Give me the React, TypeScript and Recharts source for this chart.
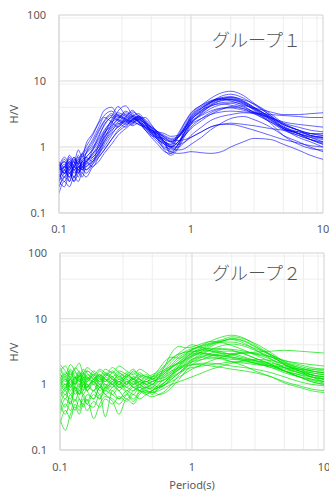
import React from 'react';
import { LineChart, Line, XAxis, YAxis, CartesianGrid } from 'recharts';

const PERIODS = [0.1, 0.11, 0.12, 0.13, 0.14, 0.15, 0.16, 0.18, 0.2, 0.22, 0.25, 0.28, 0.32, 0.36, 0.4, 0.45, 0.5, 0.56, 0.63, 0.7, 0.8, 0.9, 1.0, 1.2, 1.4, 1.7, 2.0, 2.5, 3.0, 4.0, 5.0, 6.5, 8.0, 10];

const X_MAJOR = [0.1, 1, 10];
const X_MINOR = [0.2, 0.3, 0.4, 0.5, 0.6, 0.7, 0.8, 0.9, 2, 3, 4, 5, 6, 7, 8, 9];
const Y_MAJOR = [0.1, 1, 10, 100];
const Y_MINOR = [0.2, 0.3, 0.4, 0.5, 0.6, 0.7, 0.8, 0.9, 2, 3, 4, 5, 6, 7, 8, 9, 20, 30, 40, 50, 60, 70, 80, 90];

const B01 = [0.45,0.6,0.4,0.55,0.7,0.5,0.8,1.2,1.8,2.5,3.2,2.8,3.5,2.9,2.5,1.9,1.6,1.4,1.2,1.1,1.6,2.4,3.3,4.3,5.0,5.6,5.8,5.0,4.0,2.8,2.0,1.6,1.4,1.3];
const B02 = [0.3,0.45,0.35,0.5,0.4,0.6,0.55,0.7,0.9,1.4,2.0,2.6,2.4,3.0,2.7,2.2,1.8,1.6,1.2,0.85,1.1,1.9,2.9,3.9,4.7,5.3,5.0,4.2,3.3,2.4,1.8,1.5,1.3,1.2];
const B03 = [0.55,0.4,0.7,0.5,0.65,0.45,0.7,0.6,1.1,1.6,2.3,3.0,2.6,2.3,2.8,2.4,1.7,1.3,1.1,0.9,1.1,1.7,2.5,3.5,4.5,5.3,5.7,5.2,4.5,3.2,2.3,1.8,1.5,1.4];
const B04 = [0.25,0.35,0.3,0.45,0.35,0.5,0.4,0.55,0.8,1.0,1.5,2.1,2.5,2.2,2.6,2.0,1.7,1.5,1.3,1.2,1.4,1.9,2.6,3.4,4.1,4.7,4.8,4.4,3.8,2.9,2.2,1.8,1.6,1.5];
const B05 = [0.6,0.5,0.75,0.6,0.9,0.7,1.1,1.6,2.4,3.6,4.0,3.0,2.7,3.2,2.5,1.8,1.5,1.4,1.35,1.2,1.4,1.9,2.4,3.1,3.8,4.4,4.6,4.0,3.4,2.5,1.9,1.6,1.3,1.1];
const B06 = [0.35,0.5,0.45,0.3,0.5,0.4,0.6,0.5,0.7,0.9,1.3,1.8,2.3,2.9,3.2,2.5,2.0,1.6,1.2,1.1,1.5,2.3,3.2,4.3,5.4,6.6,7.0,6.0,4.6,3.0,2.1,1.6,1.3,1.1];
const B07 = [0.5,0.35,0.6,0.45,0.55,0.8,0.6,0.9,1.4,2.2,2.9,4.1,3.0,2.6,2.2,2.0,1.8,1.7,1.6,1.45,1.5,1.8,2.2,2.7,3.1,3.4,3.5,3.4,3.3,3.1,3.0,2.9,2.8,2.8];
const B08 = [0.4,0.55,0.3,0.5,0.45,0.6,0.5,0.65,0.8,1.2,1.7,2.3,2.0,2.7,2.4,2.1,1.9,1.3,0.9,0.75,0.95,1.5,2.2,3.2,4.2,5.0,5.2,4.6,3.6,2.3,1.5,1.1,0.95,0.9];
const B09 = [0.3,0.25,0.4,0.35,0.5,0.45,0.55,0.8,1.0,1.5,2.6,3.3,2.9,2.5,3.0,2.3,1.6,1.3,1.1,0.8,1.0,1.7,2.3,3.0,3.5,3.9,4.0,3.8,3.4,2.8,2.3,2.0,1.8,1.7];
const B10 = [0.45,0.65,0.5,0.7,0.55,0.75,0.9,1.3,2.0,2.8,2.4,2.0,2.8,3.6,2.8,2.2,1.7,1.6,1.45,1.3,1.25,1.3,1.4,1.7,2.0,2.2,2.3,2.2,2.1,1.9,1.8,1.7,1.6,1.6];
const B11 = [0.2,0.3,0.25,0.35,0.3,0.4,0.35,0.5,0.6,0.8,1.1,1.5,1.9,2.3,2.6,2.8,2.2,1.6,1.2,1.0,1.0,1.2,1.5,2.0,2.5,2.9,3.1,3.3,3.2,2.7,2.2,1.8,1.5,1.4];
const B12 = [0.5,0.7,0.55,0.45,0.6,0.7,0.8,1.0,1.3,1.8,2.4,2.7,3.3,2.8,2.4,1.8,1.4,1.1,0.85,0.8,1.1,1.6,2.3,3.3,4.3,5.1,5.3,4.7,3.9,2.7,1.9,1.4,1.2,1.0];
const B13 = [0.35,0.45,0.6,0.4,0.5,0.55,0.45,0.6,0.75,1.1,1.6,2.0,2.5,2.9,2.6,2.3,2.0,1.7,1.3,1.0,0.9,0.95,1.1,1.4,1.8,2.3,2.7,2.9,2.6,2.0,1.5,1.2,1.0,0.85];
const B14 = [0.4,0.3,0.5,0.6,0.45,0.65,0.7,0.95,1.5,2.1,2.8,2.5,2.2,2.5,2.9,2.4,2.0,1.7,1.5,1.35,1.4,1.9,2.7,3.8,4.7,5.3,5.2,4.5,3.7,2.6,2.0,1.7,1.5,1.4];
const B15 = [0.55,0.45,0.35,0.5,0.6,0.5,0.65,0.7,0.9,1.2,1.9,2.4,2.9,3.4,3.0,2.4,1.9,1.5,1.15,1.0,1.2,1.7,2.5,3.6,4.7,5.9,6.3,5.5,4.4,3.0,2.2,1.8,1.6,1.5];
const B16 = [0.3,0.4,0.5,0.35,0.45,0.35,0.5,0.6,0.85,1.3,2.2,3.5,4.2,3.0,2.4,2.0,1.6,1.3,1.1,1.0,1.2,1.5,1.9,2.5,3.1,3.7,4.1,4.2,3.9,3.4,3.1,3.1,3.2,3.3];
const B17 = [0.5,0.6,0.45,0.65,0.55,0.45,0.6,0.75,1.0,1.4,1.8,2.2,2.6,2.4,2.2,1.9,1.5,1.2,0.95,0.85,0.8,0.82,0.85,0.82,0.8,0.85,1.0,1.2,1.35,1.3,1.1,0.9,0.75,0.65];
const B18 = [0.25,0.35,0.4,0.3,0.4,0.5,0.45,0.55,0.7,0.9,1.3,1.7,2.1,2.6,2.9,2.6,2.1,1.7,1.4,1.2,1.1,1.2,1.4,1.7,2.0,2.2,2.2,2.0,1.8,1.5,1.3,1.15,1.05,1.0];
const B19 = [0.6,0.4,0.55,0.7,0.5,0.6,0.8,1.1,1.7,2.4,3.0,2.6,2.3,2.6,2.8,2.2,1.8,1.5,1.2,1.05,1.4,2.0,2.8,3.9,4.8,5.5,5.6,4.9,4.0,2.8,2.0,1.6,1.4,1.2];
const B20 = [0.45,0.5,0.65,0.5,0.75,0.6,0.7,0.9,1.2,1.7,2.5,3.1,2.7,2.4,2.7,2.3,1.9,1.4,1.0,0.95,1.2,1.5,2.0,2.7,3.3,3.8,3.9,3.6,3.3,2.8,2.4,2.2,2.1,2.0];
const B21 = [0.3,0.5,0.4,0.55,0.65,0.8,1.0,1.5,2.3,3.0,3.5,2.9,2.5,2.1,2.3,2.0,1.7,1.4,1.15,1.0,1.4,2.1,3.0,4.1,4.9,5.4,5.4,4.8,3.8,2.6,1.9,1.5,1.3,1.15];
const B22 = [0.55,0.4,0.45,0.6,0.4,0.55,0.6,0.8,1.1,1.6,2.1,2.6,3.1,2.7,2.5,2.1,1.8,1.6,1.4,1.25,1.5,2.0,2.7,3.6,4.2,4.5,4.3,3.8,3.2,2.4,1.9,1.6,1.45,1.35];

const G01 = [1.2,0.9,1.5,1.1,1.4,0.8,1.2,1.0,1.3,0.9,1.1,1.4,1.0,1.2,0.9,1.1,1.0,1.3,1.6,2.0,2.6,3.0,3.4,3.8,4.2,4.6,4.8,4.2,3.4,2.4,1.8,1.5,1.3,1.2];
const G02 = [0.6,0.8,0.5,0.9,0.7,1.0,0.8,1.1,0.9,1.2,1.0,0.8,1.1,0.9,1.0,0.85,0.9,1.1,1.4,1.8,2.2,2.6,2.9,3.0,2.9,2.7,2.5,2.3,2.1,1.8,1.6,1.4,1.3,1.2];
const G03 = [1.8,1.4,2.0,1.6,1.3,1.7,1.5,1.2,1.6,1.4,1.8,1.5,1.3,1.6,1.4,1.2,1.1,1.2,1.3,1.5,1.8,2.2,2.6,3.2,3.8,4.5,5.0,4.6,3.8,2.7,2.0,1.6,1.4,1.3];
const G04 = [0.35,0.5,0.4,0.6,0.45,0.7,0.55,0.8,0.6,0.9,0.7,0.6,0.8,0.7,0.9,0.8,0.75,0.85,1.0,1.3,1.7,2.1,2.4,2.7,2.8,2.7,2.6,2.4,2.2,1.9,1.6,1.3,1.1,1.0];
const G05 = [1.0,1.3,0.9,1.2,1.6,1.1,1.4,1.2,0.9,1.3,1.1,1.5,1.2,1.0,1.3,1.1,1.3,1.7,2.3,2.6,2.5,2.8,3.3,4.0,4.6,5.3,5.6,5.0,4.0,2.8,2.0,1.6,1.4,1.3];
const G06 = [0.8,0.6,1.0,0.7,0.9,1.2,0.8,1.0,0.7,0.9,1.2,0.9,1.0,1.3,1.0,0.9,1.0,0.9,1.0,1.2,1.5,1.9,2.3,2.6,2.6,2.4,2.2,2.1,2.0,1.9,1.8,1.7,1.7,1.7];
const G07 = [1.5,1.1,1.7,1.3,1.0,1.4,1.2,1.6,1.3,1.1,1.5,1.2,1.4,1.7,1.3,1.4,1.2,1.5,1.9,2.4,3.0,3.6,4.0,3.6,3.2,3.0,2.9,3.0,3.1,3.2,3.3,3.2,3.1,3.0];
const G08 = [0.25,0.4,0.3,0.5,0.4,0.6,0.5,0.45,0.7,0.32,0.8,0.6,0.7,0.55,0.75,0.8,0.7,0.9,1.1,1.4,1.7,1.9,2.0,2.0,1.9,1.8,1.7,1.6,1.5,1.3,1.1,0.95,0.85,0.8];
const G09 = [1.1,1.4,1.0,1.3,1.1,1.5,1.3,1.1,1.4,1.2,1.0,1.3,1.1,1.2,1.0,1.2,1.3,1.5,1.7,1.9,2.1,2.4,2.8,3.4,4.0,4.6,4.9,4.5,3.7,2.8,2.2,1.9,1.7,1.6];
const G10 = [0.7,0.9,1.2,0.8,1.0,0.7,0.9,1.1,0.8,1.0,0.9,1.1,0.8,1.0,1.1,0.9,0.8,0.7,0.75,0.9,1.2,1.6,2.0,2.4,2.7,2.9,2.9,2.6,2.3,1.9,1.6,1.4,1.2,1.1];
const G11 = [2.0,1.6,1.3,1.8,1.5,1.2,1.6,1.4,1.7,1.5,1.3,1.6,1.4,1.2,1.5,1.3,1.4,1.6,2.0,2.5,2.9,3.1,3.2,3.0,2.8,2.7,2.8,3.0,2.9,2.6,2.3,2.1,2.0,1.9];
const G12 = [0.5,0.7,0.6,0.9,0.7,0.8,1.0,0.8,1.0,0.7,0.9,1.1,0.9,0.8,1.0,1.1,1.0,1.1,1.2,1.5,1.9,2.3,2.7,3.1,3.3,3.4,3.3,2.9,2.5,2.0,1.6,1.3,1.1,1.0];
const G13 = [1.3,1.0,1.2,1.5,1.2,0.9,1.1,1.3,1.0,1.4,1.2,1.0,1.3,1.1,1.2,1.0,1.1,1.3,2.0,3.0,3.8,3.6,3.7,4.2,4.5,4.3,3.9,3.3,2.8,2.2,1.8,1.5,1.3,1.2];
const G14 = [0.9,1.2,0.8,1.1,0.9,1.3,1.0,0.8,1.2,1.0,0.8,1.0,0.9,1.1,0.8,0.75,0.8,0.9,1.1,1.3,1.5,1.7,1.8,1.9,2.0,2.1,2.2,2.2,2.1,1.9,1.7,1.5,1.4,1.3];
const G15 = [0.4,0.6,0.5,0.8,0.6,0.5,0.7,0.6,0.9,0.7,0.6,0.5,0.7,0.9,0.8,0.7,0.8,1.0,1.3,1.6,2.0,2.4,2.7,2.9,2.8,2.5,2.2,1.9,1.6,1.3,1.05,0.9,0.8,0.75];
const G16 = [1.6,1.9,1.4,1.7,2.1,1.5,1.8,1.5,1.3,1.7,1.5,1.9,1.6,1.4,1.7,1.5,1.3,1.4,1.6,1.8,2.1,2.5,3.0,3.6,4.1,4.4,4.4,4.0,3.5,2.8,2.3,2.0,1.8,1.7];
const G17 = [0.9,0.7,1.1,0.9,0.7,1.0,0.8,0.6,0.9,0.8,1.0,0.8,0.6,0.8,0.9,0.7,0.65,0.7,0.8,1.0,1.4,1.8,2.2,2.6,3.0,3.2,3.2,2.9,2.5,2.0,1.6,1.3,1.15,1.05];
const G18 = [1.2,1.5,1.2,1.0,1.3,1.5,1.2,1.4,1.1,1.3,1.6,1.3,1.5,1.2,1.4,1.3,1.2,1.4,1.7,2.2,2.8,3.2,3.5,3.6,3.4,3.1,2.8,2.5,2.3,2.0,1.8,1.6,1.5,1.4];
const G19 = [0.6,0.45,0.7,0.55,0.8,0.65,0.5,0.7,0.6,0.8,0.7,0.9,0.75,0.6,0.8,0.9,0.85,0.9,1.0,1.1,1.3,1.5,1.7,2.0,2.3,2.6,2.9,3.1,3.0,2.6,2.1,1.7,1.4,1.2];
const G20 = [1.4,1.2,0.9,1.3,1.1,1.4,1.6,1.3,1.1,1.4,1.2,1.1,1.3,1.5,1.2,1.1,1.2,1.3,1.5,1.8,2.2,2.7,3.1,3.4,3.5,3.5,3.4,3.2,2.9,2.4,2.0,1.7,1.5,1.4];
const G21 = [0.3,0.2,0.35,0.45,0.35,0.5,0.4,0.55,0.45,0.6,0.5,0.65,0.55,0.7,0.6,0.7,0.8,0.9,1.0,1.2,1.5,1.8,2.0,2.1,2.1,2.0,1.9,1.8,1.7,1.5,1.3,1.1,1.0,0.95];
const G22 = [1.0,0.8,1.2,1.0,1.4,1.1,0.9,1.2,1.4,1.1,1.3,1.0,1.2,1.0,1.1,1.3,1.2,1.1,1.2,1.4,1.7,2.0,2.4,2.9,3.4,3.9,4.1,3.8,3.3,2.6,2.1,1.8,1.6,1.5];
const G23 = [0.8,1.0,0.7,0.95,0.8,1.1,0.9,1.2,1.0,0.85,1.1,0.9,1.1,0.9,0.8,0.9,1.0,1.2,1.4,1.6,1.8,2.0,2.2,2.4,2.5,2.5,2.4,2.3,2.1,1.8,1.5,1.3,1.2,1.1];
const G24 = [1.7,1.3,1.6,1.2,1.5,1.3,1.1,1.4,1.2,1.5,1.3,1.1,1.4,1.2,1.1,1.0,0.9,0.95,1.1,1.4,1.9,2.5,3.0,3.3,3.2,2.9,2.6,2.4,2.3,2.1,1.9,1.7,1.6,1.5];
const G25 = [0.5,0.35,0.55,0.4,0.6,0.45,0.6,0.3,0.5,0.65,0.55,0.35,0.6,0.5,0.7,0.8,0.75,0.8,0.9,1.0,1.1,1.2,1.3,1.5,1.7,1.9,2.1,2.3,2.4,2.3,2.0,1.6,1.3,1.1];
const G26 = [1.1,0.85,1.3,1.0,1.2,1.0,1.3,1.1,1.4,1.2,1.0,1.2,1.0,1.3,1.2,1.0,1.1,1.25,1.5,1.9,2.4,2.9,3.4,3.9,4.3,4.8,5.3,4.9,4.2,3.0,2.2,1.8,1.6,1.5];

const BLUE_SERIES = [B01,B02,B03,B04,B05,B06,B07,B08,B09,B10,B11,B12,B13,B14,B15,B16,B17,B18,B19,B20,B21,B22];
const GREEN_SERIES = [G01,G02,G03,G04,G05,G06,G07,G08,G09,G10,G11,G12,G13,G14,G15,G16,G17,G18,G19,G20,G21,G22,G23,G24,G25,G26];

function buildRows(series: number[][]) {
  return PERIODS.map((p, i) => {
    const row: Record<string, number> = { p };
    series.forEach((s, k) => { row['s' + k] = s[i]; });
    return row;
  });
}

const BLUE_ROWS = buildRows(BLUE_SERIES);
const GREEN_ROWS = buildRows(GREEN_SERIES);

const TICK_STYLE = { fontSize: 11, fill: '#595959', fontFamily: 'Noto Sans' };
const fmt = (v: number) => String(v);

function Panel(props: { rows: any[]; count: number; color: string; opacity: number; top: number; bottom: number; left: number; right: number; xTickMargin: number; showXLabel: boolean }) {
  const { rows, count, color, opacity, top, bottom, left, right, xTickMargin, showXLabel } = props;
  const keys = Array.from({ length: count }, (_, k) => 's' + k);
  return (
    <LineChart width={329} height={246} data={rows} margin={{ top, right, bottom, left: 0 }}>
      <XAxis xAxisId="minor" dataKey="p" type="number" scale="log" domain={[0.1, 10]} ticks={X_MINOR} hide allowDataOverflow />
      <YAxis yAxisId="minor" type="number" scale="log" domain={[0.1, 100]} ticks={Y_MINOR} hide allowDataOverflow />
      <CartesianGrid xAxisId="minor" yAxisId="minor" stroke="#eeeeee" strokeWidth={1} />
      <CartesianGrid stroke="#d9d9d9" strokeWidth={1} />
      <XAxis
        dataKey="p"
        type="number"
        scale="log"
        domain={[0.1, 10]}
        ticks={X_MAJOR}
        allowDataOverflow
        tickFormatter={fmt}
        tickLine={false}
        tickSize={0}
        tickMargin={xTickMargin}
        axisLine={{ stroke: '#d9d9d9' }}
        tick={TICK_STYLE}
        height={showXLabel ? 42 : 30}
        interval={0}
        label={showXLabel ? { value: 'Period(s)', position: 'insideBottom', offset: 3, style: { fontSize: 11, fill: '#595959', fontFamily: 'Noto Sans' } } : undefined}
      />
      <YAxis
        type="number"
        scale="log"
        domain={[0.1, 100]}
        ticks={Y_MAJOR}
        allowDataOverflow
        tickFormatter={fmt}
        tickLine={false}
        tickSize={0}
        tickMargin={13}
        axisLine={{ stroke: '#d9d9d9' }}
        tick={TICK_STYLE}
        width={left}
        interval={0}
      />
      {keys.map((k) => (
        <Line key={k} dataKey={k} type="monotone" stroke={color} strokeOpacity={opacity} strokeWidth={1} dot={false} activeDot={false} isAnimationActive={false} />
      ))}
    </LineChart>
  );
}

export default function App() {
  const labelStyle: React.CSSProperties = { position: 'absolute', fontSize: 11, color: '#595959', fontFamily: 'Noto Sans', transform: 'translate(-50%, -50%) rotate(-90deg)', whiteSpace: 'nowrap', lineHeight: 1 };
  const titleStyle: React.CSSProperties = { position: 'absolute', fontSize: 18, color: '#555555', fontFamily: '"Noto Sans CJK JP"', fontWeight: 300, whiteSpace: 'nowrap', lineHeight: 1, transform: 'translateY(-50%)' };
  return (
    <div style={{ position: 'absolute', left: 0, top: 0, width: 329, height: 492, background: '#ffffff', overflow: 'hidden' }}>
      <div style={{ position: 'absolute', left: 0, top: 0 }}>
        <Panel rows={BLUE_ROWS} count={BLUE_SERIES.length} color="#0000ff" opacity={0.6} top={15} bottom={3} left={59} right={6} xTickMargin={12} showXLabel={false} />
      </div>
      <div style={{ position: 'absolute', left: 0, top: 246 }}>
        <Panel rows={GREEN_ROWS} count={GREEN_SERIES.length} color="#00e600" opacity={0.7} top={7} bottom={0} left={60} right={5} xTickMargin={13} showXLabel={true} />
      </div>
      <div style={{ ...labelStyle, left: 13, top: 114 }}>H/V</div>
      <div style={{ ...labelStyle, left: 13, top: 352 }}>H/V</div>
      <div style={{ ...titleStyle, left: 212, top: 39 }}>グループ１</div>
      <div style={{ ...titleStyle, left: 212, top: 272 }}>グループ２</div>
    </div>
  );
}
